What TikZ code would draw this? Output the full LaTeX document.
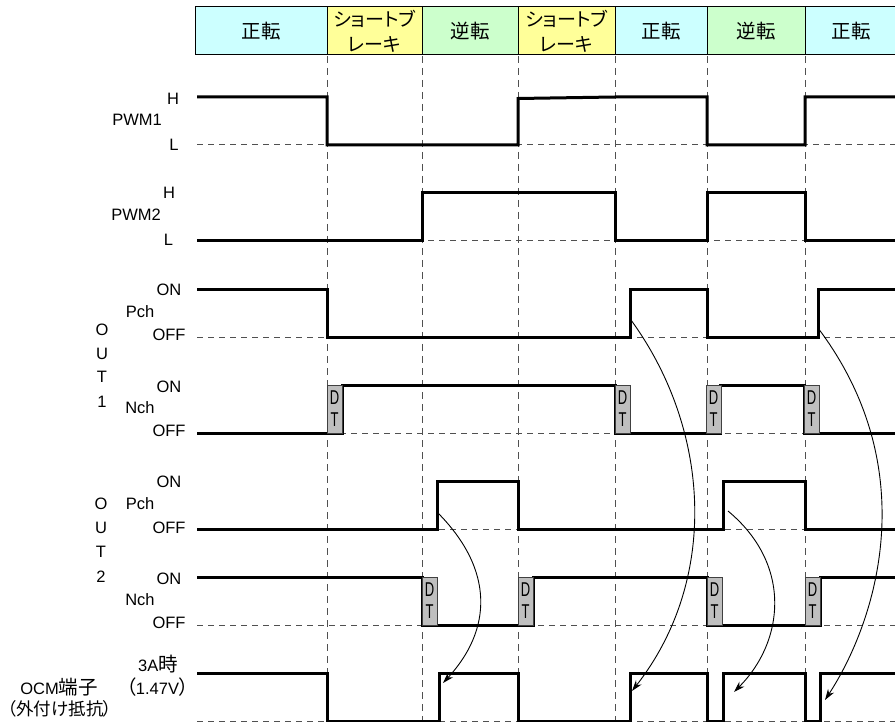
\documentclass[tikz,border=0pt]{standalone}
\usepackage{fontspec}
\usepackage{graphicx}
\setmainfont{Liberation Sans}
\newfontfamily\jpf{Noto Sans CJK JP}
\newfontfamily\jpp[RawFeature=+palt]{Noto Sans CJK JP}
\usetikzlibrary{arrows.meta}
\definecolor{cyanc}{HTML}{CCFFFF}
\definecolor{yelc}{HTML}{FFFF99}
\definecolor{grnc}{HTML}{CCFFCC}
\definecolor{gridc}{HTML}{505050}
\newcommand\J[1]{{\jpf\fontsize{19.5}{20}\selectfont #1}}
\newcommand\JP[1]{{\jpp\fontsize{19.5}{20}\selectfont #1}}
\newcommand\JS[1]{{\jpp\fontsize{17.5}{18}\selectfont #1}}
\newcommand\dtxt{\scalebox{0.65}[1]{D}\\\scalebox{0.65}[1]{T}}
\begin{document}
\begin{tikzpicture}[x=1pt,y=-1pt,
  sig/.style={line width=3pt,line join=miter},
  vgrid/.style={draw=gridc,line width=1pt,dash pattern=on 7pt off 5pt},
  hgrid/.style={draw=gridc,line width=1pt,dash pattern=on 6pt off 5pt},
  cell/.style={draw,line width=1pt,inner sep=0pt,minimum height=48pt,font=\jpf\fontsize{19.5}{25}\selectfont,align=center},
  kcell/.style={cell,fill=yelc,font=\jpp\fontsize{19}{25}\selectfont},
  dtbox/.style={draw=black!75,fill=gray!50,line width=0.8pt,inner sep=0pt,minimum width=15pt,minimum height=48pt,font=\fontsize{20}{22}\selectfont,align=center},
  lab/.style={inner sep=0pt,font=\fontsize{16.5}{19}\selectfont},
  arr/.style={line width=0.9pt,-{Stealth[length=11pt,width=7pt]}}]
\useasboundingbox (0,0) rectangle (895,722);
\fill[white] (0,0) rectangle (895,722);

% vertical grid
\foreach \x in {327,422,518,615,707,805} \draw[vgrid] (\x,56) -- (\x,722);
% horizontal low-level grid
\foreach \y in {145,241,338,433,529,625,721} \draw[hgrid] (197,\y) -- (895,\y);

% header
\node[cell,fill=cyanc,minimum width=132pt] (h1) at (261,31) {正転};
\node[kcell,minimum width=95pt] (h2) at (374.5,31) {ショートブ\\レーキ};
\node[cell,fill=grnc,minimum width=96pt] (h3) at (470,31) {逆転};
\node[kcell,minimum width=97pt] (h4) at (566.5,31) {ショートブ\\レーキ};
\node[cell,fill=cyanc,minimum width=92pt] (h5) at (661,31) {正転};
\node[cell,fill=grnc,minimum width=98pt] (h6) at (756,31) {逆転};
\node[cell,fill=cyanc,minimum width=92pt] (h7) at (851,31) {正転};

% signals
\draw[sig] (197,97) -- (327,97) -- (327,145) -- (518,145) -- (518,98.5) -- (615,97) -- (707,97) -- (707,145) -- (805,145) -- (805,97) -- (895,97);
\draw[sig] (197,241) -- (422,241) -- (422,193) -- (615,193) -- (615,241) -- (707,241) -- (707,193) -- (805,193) -- (805,241) -- (895,241);
\draw[sig] (197,290) -- (327,290) -- (327,338) -- (630,338) -- (630,290) -- (707,290) -- (707,338) -- (818,338) -- (818,290) -- (895,290);
\draw[sig] (197,433) -- (342,433) -- (342,385) -- (615,385) -- (615,433) -- (720,433) -- (720,385) -- (804,385) -- (804,433) -- (895,433);
\draw[sig] (197,529) -- (437,529) -- (437,481) -- (518,481) -- (518,529) -- (723,529) -- (723,481) -- (805,481) -- (805,529) -- (895,529);
\draw[sig] (197,577) -- (422,577) -- (422,625) -- (533,625) -- (533,577) -- (707,577) -- (707,625) -- (820,625) -- (820,577) -- (895,577);
\draw[sig] (197,673) -- (327,673) -- (327,721) -- (439,721) -- (439,673) -- (518,673) -- (518,721) -- (630,721) -- (630,673) -- (707,673) -- (707,721) -- (723,721) -- (723,673) -- (805,673) -- (805,721) -- (820,721) -- (820,673) -- (895,673);

% dead-time boxes
\node[dtbox] (d1) at (334.5,409) {\dtxt};
\node[dtbox] (d2) at (622.5,409) {\dtxt};
\node[dtbox] (d3) at (713.5,409) {\dtxt};
\node[dtbox] (d4) at (811.5,409) {\dtxt};
\node[dtbox] (d5) at (429.5,601) {\dtxt};
\node[dtbox] (d6) at (525.5,601) {\dtxt};
\node[dtbox] (d7) at (714.5,601) {\dtxt};
\node[dtbox] (d8) at (812.5,601) {\dtxt};

% labels
\node[lab] (l1) at (173,99) {H};
\node[lab] (l2) at (137,120) {PWM1};
\node[lab] (l3) at (174,145) {L};
\node[lab] (l4) at (169,193) {H};
\node[lab] (l5) at (136,215) {PWM2};
\node[lab] (l6) at (168.5,240) {L};
\node[lab] (l7) at (169,290) {ON};
\node[lab] (l8) at (140,312) {Pch};
\node[lab] (l9) at (169,335) {OFF};
\node[lab] (l10) at (169,387) {ON};
\node[lab] (l11) at (140,408) {Nch};
\node[lab] (l12) at (169,431) {OFF};
\node[lab] (o1a) at (102,330) {O};
\node[lab] (o1b) at (102,354) {U};
\node[lab] (o1c) at (102,377) {T};
\node[lab] (o1d) at (102,402) {1};
\node[lab] (l13) at (169,482) {ON};
\node[lab] (l14) at (140,504) {Pch};
\node[lab] (l15) at (169,528) {OFF};
\node[lab] (l16) at (169,579) {ON};
\node[lab] (l17) at (140,600) {Nch};
\node[lab] (l18) at (169,623) {OFF};
\node[lab] (o2a) at (101,504) {O};
\node[lab] (o2b) at (101,528) {U};
\node[lab] (o2c) at (101,552) {T};
\node[lab] (o2d) at (101,577) {2};
\node[lab] (l19) at (158,664) {3A\J{時}};
\node[lab] (l20) at (157.5,687) {\JP{（}1.47V\JP{）}};
\node[lab] (l21) at (59,687) {OCM\J{端子}};
\node[lab] (l22) at (60,709) {\JS{（外付け抵抗）}};

% arrows
\coordinate (a1s) at (437,512); \coordinate (a1e) at (443,683);
\coordinate (a2s) at (631,320); \coordinate (a2e) at (632,691);
\coordinate (a3s) at (728,511); \coordinate (a3e) at (734,692);
\coordinate (a4s) at (818,328); \coordinate (a4e) at (825,700);
\draw[arr] (a1s) .. controls (495,570) and (492,630) .. (a1e);
\draw[arr] (a2s) .. controls (711,430) and (719,580) .. (a2e);
\draw[arr] (a3s) .. controls (793,565) and (784,642) .. (a3e);
\draw[arr] (a4s) .. controls (925,470) and (876,622) .. (a4e);
\end{tikzpicture}
\end{document}
